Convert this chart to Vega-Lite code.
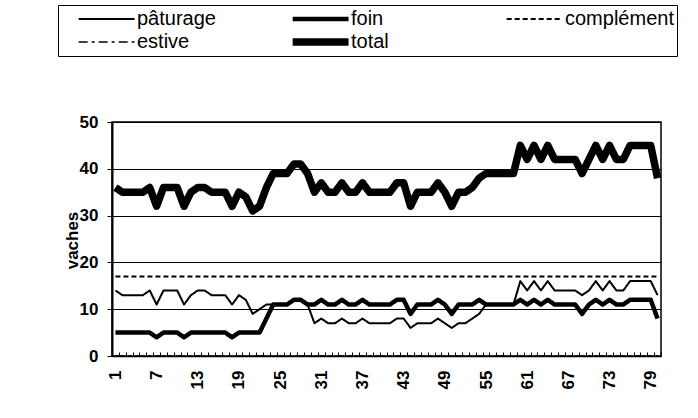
{
  "$schema": "https://vega.github.io/schema/vega-lite/v6.json",
  "width": 549,
  "height": 234,
  "autosize": "none",
  "padding": {"left": 112, "top": 122, "right": 37, "bottom": 62},
  "background": "white",
  "config": {
    "font": "Liberation Sans",
    "view": {"stroke": "black", "strokeWidth": 1.5}
  },
  "data": {
    "values": [
      {"jour":1,"pâturage":14,"foin":5,"complément":17,"estive":0,"total":36},
      {"jour":2,"pâturage":13,"foin":5,"complément":17,"estive":0,"total":35},
      {"jour":3,"pâturage":13,"foin":5,"complément":17,"estive":0,"total":35},
      {"jour":4,"pâturage":13,"foin":5,"complément":17,"estive":0,"total":35},
      {"jour":5,"pâturage":13,"foin":5,"complément":17,"estive":0,"total":35},
      {"jour":6,"pâturage":14,"foin":5,"complément":17,"estive":0,"total":36},
      {"jour":7,"pâturage":11,"foin":4,"complément":17,"estive":0,"total":32},
      {"jour":8,"pâturage":14,"foin":5,"complément":17,"estive":0,"total":36},
      {"jour":9,"pâturage":14,"foin":5,"complément":17,"estive":0,"total":36},
      {"jour":10,"pâturage":14,"foin":5,"complément":17,"estive":0,"total":36},
      {"jour":11,"pâturage":11,"foin":4,"complément":17,"estive":0,"total":32},
      {"jour":12,"pâturage":13,"foin":5,"complément":17,"estive":0,"total":35},
      {"jour":13,"pâturage":14,"foin":5,"complément":17,"estive":0,"total":36},
      {"jour":14,"pâturage":14,"foin":5,"complément":17,"estive":0,"total":36},
      {"jour":15,"pâturage":13,"foin":5,"complément":17,"estive":0,"total":35},
      {"jour":16,"pâturage":13,"foin":5,"complément":17,"estive":0,"total":35},
      {"jour":17,"pâturage":13,"foin":5,"complément":17,"estive":0,"total":35},
      {"jour":18,"pâturage":11,"foin":4,"complément":17,"estive":0,"total":32},
      {"jour":19,"pâturage":13,"foin":5,"complément":17,"estive":0,"total":35},
      {"jour":20,"pâturage":12,"foin":5,"complément":17,"estive":0,"total":34},
      {"jour":21,"pâturage":9,"foin":5,"complément":17,"estive":0,"total":31},
      {"jour":22,"pâturage":10,"foin":5,"complément":17,"estive":0,"total":32},
      {"jour":23,"pâturage":11,"foin":8,"complément":17,"estive":0,"total":36},
      {"jour":24,"pâturage":11,"foin":11,"complément":17,"estive":0,"total":39},
      {"jour":25,"pâturage":11,"foin":11,"complément":17,"estive":0,"total":39},
      {"jour":26,"pâturage":11,"foin":11,"complément":17,"estive":0,"total":39},
      {"jour":27,"pâturage":12,"foin":12,"complément":17,"estive":0,"total":41},
      {"jour":28,"pâturage":12,"foin":12,"complément":17,"estive":0,"total":41},
      {"jour":29,"pâturage":11,"foin":11,"complément":17,"estive":0,"total":39},
      {"jour":30,"pâturage":7,"foin":11,"complément":17,"estive":0,"total":35},
      {"jour":31,"pâturage":8,"foin":12,"complément":17,"estive":0,"total":37},
      {"jour":32,"pâturage":7,"foin":11,"complément":17,"estive":0,"total":35},
      {"jour":33,"pâturage":7,"foin":11,"complément":17,"estive":0,"total":35},
      {"jour":34,"pâturage":8,"foin":12,"complément":17,"estive":0,"total":37},
      {"jour":35,"pâturage":7,"foin":11,"complément":17,"estive":0,"total":35},
      {"jour":36,"pâturage":7,"foin":11,"complément":17,"estive":0,"total":35},
      {"jour":37,"pâturage":8,"foin":12,"complément":17,"estive":0,"total":37},
      {"jour":38,"pâturage":7,"foin":11,"complément":17,"estive":0,"total":35},
      {"jour":39,"pâturage":7,"foin":11,"complément":17,"estive":0,"total":35},
      {"jour":40,"pâturage":7,"foin":11,"complément":17,"estive":0,"total":35},
      {"jour":41,"pâturage":7,"foin":11,"complément":17,"estive":0,"total":35},
      {"jour":42,"pâturage":8,"foin":12,"complément":17,"estive":0,"total":37},
      {"jour":43,"pâturage":8,"foin":12,"complément":17,"estive":0,"total":37},
      {"jour":44,"pâturage":6,"foin":9,"complément":17,"estive":0,"total":32},
      {"jour":45,"pâturage":7,"foin":11,"complément":17,"estive":0,"total":35},
      {"jour":46,"pâturage":7,"foin":11,"complément":17,"estive":0,"total":35},
      {"jour":47,"pâturage":7,"foin":11,"complément":17,"estive":0,"total":35},
      {"jour":48,"pâturage":8,"foin":12,"complément":17,"estive":0,"total":37},
      {"jour":49,"pâturage":7,"foin":11,"complément":17,"estive":0,"total":35},
      {"jour":50,"pâturage":6,"foin":9,"complément":17,"estive":0,"total":32},
      {"jour":51,"pâturage":7,"foin":11,"complément":17,"estive":0,"total":35},
      {"jour":52,"pâturage":7,"foin":11,"complément":17,"estive":0,"total":35},
      {"jour":53,"pâturage":8,"foin":11,"complément":17,"estive":0,"total":36},
      {"jour":54,"pâturage":9,"foin":12,"complément":17,"estive":0,"total":38},
      {"jour":55,"pâturage":11,"foin":11,"complément":17,"estive":0,"total":39},
      {"jour":56,"pâturage":11,"foin":11,"complément":17,"estive":0,"total":39},
      {"jour":57,"pâturage":11,"foin":11,"complément":17,"estive":0,"total":39},
      {"jour":58,"pâturage":11,"foin":11,"complément":17,"estive":0,"total":39},
      {"jour":59,"pâturage":11,"foin":11,"complément":17,"estive":0,"total":39},
      {"jour":60,"pâturage":16,"foin":12,"complément":17,"estive":0,"total":45},
      {"jour":61,"pâturage":14,"foin":11,"complément":17,"estive":0,"total":42},
      {"jour":62,"pâturage":16,"foin":12,"complément":17,"estive":0,"total":45},
      {"jour":63,"pâturage":14,"foin":11,"complément":17,"estive":0,"total":42},
      {"jour":64,"pâturage":16,"foin":12,"complément":17,"estive":0,"total":45},
      {"jour":65,"pâturage":14,"foin":11,"complément":17,"estive":0,"total":42},
      {"jour":66,"pâturage":14,"foin":11,"complément":17,"estive":0,"total":42},
      {"jour":67,"pâturage":14,"foin":11,"complément":17,"estive":0,"total":42},
      {"jour":68,"pâturage":14,"foin":11,"complément":17,"estive":0,"total":42},
      {"jour":69,"pâturage":13,"foin":9,"complément":17,"estive":0,"total":39},
      {"jour":70,"pâturage":14,"foin":11,"complément":17,"estive":0,"total":42},
      {"jour":71,"pâturage":16,"foin":12,"complément":17,"estive":0,"total":45},
      {"jour":72,"pâturage":14,"foin":11,"complément":17,"estive":0,"total":42},
      {"jour":73,"pâturage":16,"foin":12,"complément":17,"estive":0,"total":45},
      {"jour":74,"pâturage":14,"foin":11,"complément":17,"estive":0,"total":42},
      {"jour":75,"pâturage":14,"foin":11,"complément":17,"estive":0,"total":42},
      {"jour":76,"pâturage":16,"foin":12,"complément":17,"estive":0,"total":45},
      {"jour":77,"pâturage":16,"foin":12,"complément":17,"estive":0,"total":45},
      {"jour":78,"pâturage":16,"foin":12,"complément":17,"estive":0,"total":45},
      {"jour":79,"pâturage":16,"foin":12,"complément":17,"estive":0,"total":45},
      {"jour":80,"pâturage":13,"foin":8,"complément":17,"estive":0,"total":38}
    ]
  },
  "transform": [
    {"fold": ["pâturage", "foin", "complément", "estive", "total"], "as": ["serie", "vaches"]}
  ],
  "mark": {"type": "line", "color": "black", "strokeJoin": "round", "strokeCap": "butt"},
  "encoding": {
    "x": {
      "field": "jour",
      "type": "ordinal",
      "bandPosition": 0.5,
      "scale": {"type": "band", "paddingInner": 0, "paddingOuter": 0},
      "axis": {
        "title": null,
        "labelAngle": -90,
        "labelExpr": "(datum.value - 1) % 6 === 0 ? datum.label : ''",
        "labelFont": "Liberation Sans",
        "labelFontSize": 17,
        "labelFontWeight": "bold",
        "labelColor": "black",
        "labelPadding": 18,
        "labelBaseline": "middle",
        "labelAlign": "right",
        "tickBand": "extent",
        "tickColor": "black",
        "tickSize": -4,
        "tickWidth": 1,
        "domainColor": "black",
        "domainWidth": 1.5,
        "grid": false
      }
    },
    "y": {
      "field": "vaches",
      "type": "quantitative",
      "scale": {"domain": [0, 50], "nice": false},
      "axis": {
        "title": "vaches",
        "values": [0, 10, 20, 30, 40, 50],
        "titleFont": "Liberation Sans",
        "titleFontSize": 17,
        "titleFontWeight": "bold",
        "titleColor": "black",
        "titleX": -40,
        "titleY": 118,
        "titleAngle": -90,
        "titleAlign": "center",
        "titleBaseline": "middle",
        "labelFont": "Liberation Sans",
        "labelFontSize": 17,
        "labelFontWeight": "bold",
        "labelColor": "black",
        "labelPadding": 9,
        "tickColor": "black",
        "tickSize": 5,
        "domainColor": "black",
        "domainWidth": 2,
        "grid": true,
        "gridColor": "black",
        "gridWidth": 1
      }
    },
    "strokeWidth": {
      "field": "serie",
      "type": "nominal",
      "scale": {
        "type": "ordinal",
        "domain": ["pâturage", "foin", "complément", "estive", "total"],
        "range": [2, 4.5, 2, 1.5, 7.5]
      },
      "legend": {
        "title": null,
        "orient": "none",
        "legendX": -54,
        "legendY": -117,
        "direction": "horizontal",
        "columns": 3,
        "gridAlign": "all",
        "columnPadding": 29,
        "rowPadding": 1,
        "clipHeight": 22,
        "symbolType": "M1.1,0H9.7",
        "symbolSize": 169,
        "symbolStrokeColor": "black",
        "labelFont": "Liberation Sans",
        "labelFontSize": 20,
        "labelColor": "black",
        "labelOffset": 55,
        "strokeColor": "black",
        "padding": 3
      }
    },
    "strokeDash": {
      "field": "serie",
      "type": "nominal",
      "scale": {
        "domain": ["pâturage", "foin", "complément", "estive", "total"],
        "range": [[1, 0], [1, 0], [5, 3], [9, 4, 3, 4], [1, 0]]
      }
    }
  }
}
